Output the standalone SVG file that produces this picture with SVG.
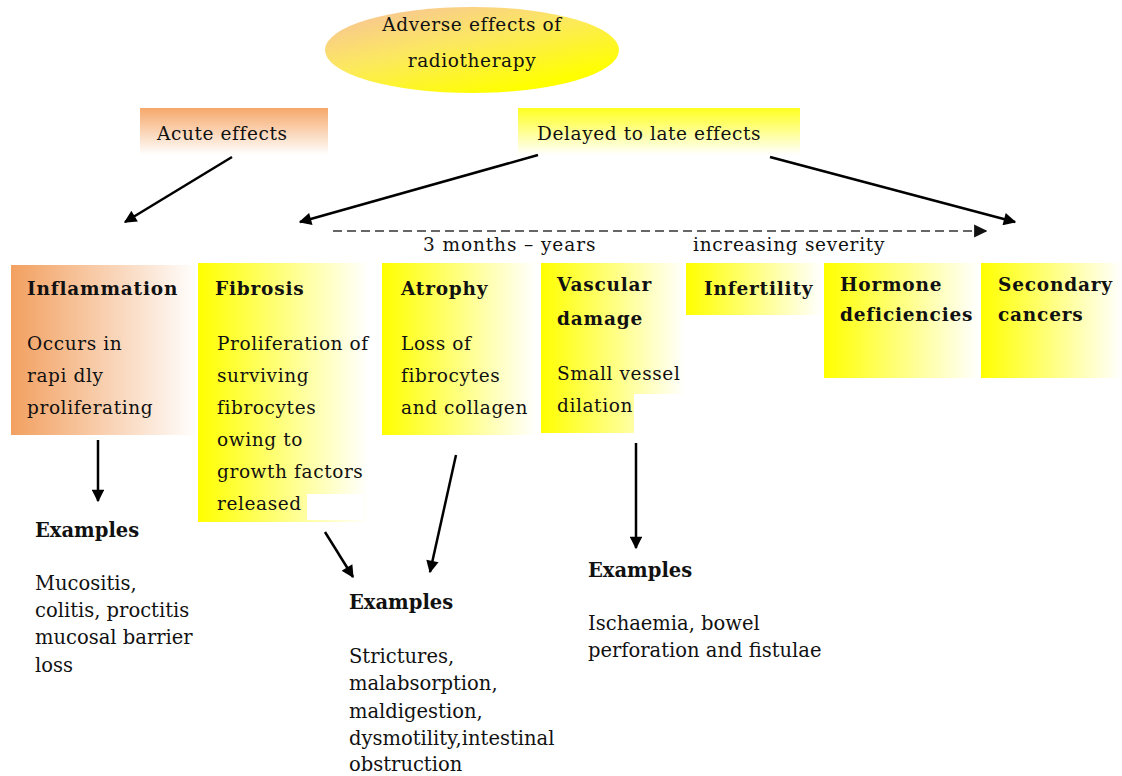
<svg xmlns="http://www.w3.org/2000/svg" width="1122" height="776" viewBox="0 0 1122 776">
<defs>
<linearGradient id="gEll" x1="0.25" y1="0" x2="0.85" y2="0.8">
<stop offset="0" stop-color="#f8c890"/>
<stop offset="0.45" stop-color="#fce860"/>
<stop offset="1" stop-color="#ffff00"/>
</linearGradient>
<linearGradient id="gOrV" x1="0" y1="0" x2="0" y2="1">
<stop offset="0" stop-color="#f6a86a"/>
<stop offset="1" stop-color="#ffffff"/>
</linearGradient>
<linearGradient id="gYeV" x1="0" y1="0" x2="0" y2="1">
<stop offset="0" stop-color="#ffff20"/>
<stop offset="1" stop-color="#ffffff"/>
</linearGradient>
<linearGradient id="gOrH" x1="0" y1="0" x2="1" y2="0">
<stop offset="0" stop-color="#f2a060"/>
<stop offset="1" stop-color="#ffffff"/>
</linearGradient>
<linearGradient id="gYeH" x1="0" y1="0" x2="1" y2="0">
<stop offset="0" stop-color="#ffff00"/>
<stop offset="1" stop-color="#ffffff"/>
</linearGradient>
<marker id="ah" viewBox="0 0 10 10" refX="9" refY="5" markerWidth="5.5" markerHeight="5" orient="auto" markerUnits="strokeWidth">
<path d="M0,0 L10,5 L0,10 z" fill="#000"/>
</marker>
<marker id="ahd" viewBox="0 0 10 10" refX="9" refY="5" markerWidth="6" markerHeight="6" orient="auto" markerUnits="strokeWidth">
<path d="M0,0 L10,5 L0,10 z" fill="#111"/>
</marker>
</defs>
<style>
text{font-family:"DejaVu Serif","Liberation Serif",serif;fill:#111}
.t{font-size:18.5px;letter-spacing:0.6px}
.b{font-size:18.5px;font-weight:bold;letter-spacing:0.8px}
.e{font-size:19.5px}
.eb{font-size:19.5px;font-weight:bold}
.c{stroke:#000;stroke-width:2.5;fill:none;marker-end:url(#ah)}
</style>
<rect width="1122" height="776" fill="#fff"/>
<g id="root">
<ellipse cx="472" cy="50" rx="147" ry="43" fill="url(#gEll)"/>
<text class="t" x="472" y="31" text-anchor="middle">Adverse effects of</text>
<text class="t" x="472" y="67" text-anchor="middle">radiotherapy</text>
</g>
<g id="acute">
<rect x="140" y="108" width="188" height="47" fill="url(#gOrV)"/>
<text class="t" x="157" y="140">Acute effects</text>
</g>
<g id="delayed">
<rect x="518" y="108" width="282" height="47" fill="url(#gYeV)"/>
<text class="t" x="537" y="140">Delayed to late effects</text>
</g>
<g id="timeline">
<line x1="333" y1="231" x2="986" y2="231" stroke="#666" stroke-width="2.2" stroke-dasharray="9,5" marker-end="url(#ahd)"/>
<text class="t" x="423" y="251" textLength="173" lengthAdjust="spacing">3 months – years</text>
<text class="t" x="693" y="251" textLength="192" lengthAdjust="spacing">increasing severity</text>
</g>
<g id="inflammation">
<rect x="11" y="265" width="187" height="170" fill="url(#gOrH)"/>
<text class="b" x="27" y="295">Inflammation</text>
<text class="t" x="27" y="350">Occurs in</text>
<text class="t" x="27" y="382">rapi dly</text>
<text class="t" x="27" y="414">proliferating</text>
</g>
<g id="fibrosis">
<rect x="198" y="263" width="170" height="259" fill="url(#gYeH)"/>
<rect x="307" y="494" width="56" height="26" fill="#fff"/>
<text class="b" x="215" y="295">Fibrosis</text>
<text class="t" x="217" y="350">Proliferation of</text>
<text class="t" x="217" y="382">surviving</text>
<text class="t" x="217" y="414">fibrocytes</text>
<text class="t" x="217" y="446">owing to</text>
<text class="t" x="217" y="478">growth factors</text>
<text class="t" x="217" y="510">released</text>
</g>
<g id="atrophy">
<rect x="382" y="263" width="154" height="172" fill="url(#gYeH)"/>
<text class="b" x="401" y="295">Atrophy</text>
<text class="t" x="401" y="350">Loss of</text>
<text class="t" x="401" y="382">fibrocytes</text>
<text class="t" x="401" y="414">and collagen</text>
</g>
<g id="vascular">
<rect x="541" y="263" width="144" height="170" fill="url(#gYeH)"/>
<rect x="634" y="394" width="51" height="39" fill="#fff"/>
<text class="b" x="557" y="291">Vascular</text>
<text class="b" x="557" y="325">damage</text>
<text class="t" x="557" y="380">Small vessel</text>
<text class="t" x="557" y="412">dilation</text>
</g>
<g id="infertility">
<rect x="686" y="263" width="136" height="52" fill="url(#gYeH)"/>
<text class="b" x="704" y="295">Infertility</text>
</g>
<g id="hormone">
<rect x="824" y="263" width="155" height="115" fill="url(#gYeH)"/>
<text class="b" x="840" y="291">Hormone</text>
<text class="b" x="840" y="321">deficiencies</text>
</g>
<g id="secondary">
<rect x="981" y="263" width="141" height="115" fill="url(#gYeH)"/>
<text class="b" x="998" y="291">Secondary</text>
<text class="b" x="998" y="321">cancers</text>
</g>
<g id="examples1">
<text class="eb" x="35" y="537">Examples</text>
<text class="e" x="35" y="590">Mucositis,</text>
<text class="e" x="35" y="617">colitis, proctitis</text>
<text class="e" x="35" y="644">mucosal barrier</text>
<text class="e" x="35" y="672">loss</text>
</g>
<g id="examples2">
<text class="eb" x="349" y="609">Examples</text>
<text class="e" x="349" y="663">Strictures,</text>
<text class="e" x="349" y="690">malabsorption,</text>
<text class="e" x="349" y="718">maldigestion,</text>
<text class="e" x="349" y="745">dysmotility,intestinal</text>
<text class="e" x="349" y="771">obstruction</text>
</g>
<g id="examples3">
<text class="eb" x="588" y="577">Examples</text>
<text class="e" x="588" y="630">Ischaemia, bowel</text>
<text class="e" x="588" y="657">perforation and fistulae</text>
</g>
<g id="connectors">
<line class="c" x1="232" y1="157" x2="125" y2="222"/>
<line class="c" x1="538" y1="155" x2="300" y2="222"/>
<line class="c" x1="770" y1="157" x2="1015" y2="222"/>
<line class="c" x1="98" y1="440" x2="98" y2="501"/>
<line class="c" x1="325" y1="532" x2="353" y2="577"/>
<line class="c" x1="456" y1="455" x2="430" y2="572"/>
<line class="c" x1="636" y1="443" x2="636" y2="548"/>
</g>
</svg>
